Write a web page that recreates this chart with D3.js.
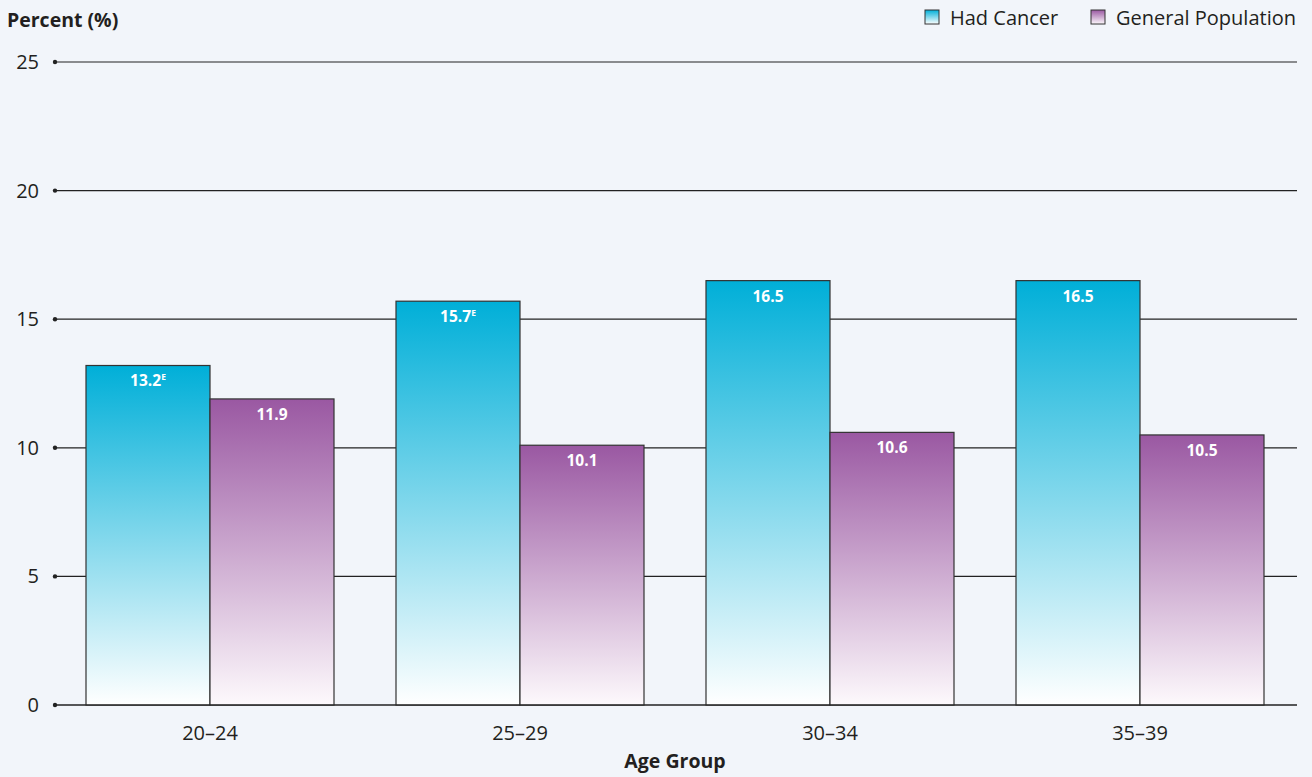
<!DOCTYPE html>
<html><head><meta charset="utf-8">
<script src="https://cdn.jsdelivr.net/npm/d3@7"></script>
<style>
html,body{margin:0;padding:0;background:#f2f5fa;}
svg{display:block;font-family:"Open Sans",sans-serif;}
</style></head>
<body><svg id="c" width="1312" height="777"></svg>
<script>
const categories = ["20–24","25–29","30–34","35–39"];
const seriesNames = ["Had Cancer","General Population"];
const hadCancer = [13.2,15.7,16.5,16.5];
const generalPop = [11.9,10.1,10.6,10.5];
const estimateFlags = [true,true,false,false];
const yTicks = [0,5,10,15,20,25];

const svg = d3.select("#c");
const x = d3.scaleBand().domain(categories).range([55,1295]).paddingInner(0.2).paddingOuter(0.1);
const xs = d3.scaleBand().domain(seriesNames).range([0,x.bandwidth()]);
const y = d3.scaleLinear().domain([0,25]).range([705,62]);

const defs = svg.append("defs");
const g1 = defs.append("linearGradient").attr("id","gc").attr("x1",0).attr("y1",0).attr("x2",0).attr("y2",1);
g1.append("stop").attr("offset","0%").attr("stop-color","#00afd8");
g1.append("stop").attr("offset","100%").attr("stop-color","#ffffff");
const g2 = defs.append("linearGradient").attr("id","gp").attr("x1",0).attr("y1",0).attr("x2",0).attr("y2",1);
g2.append("stop").attr("offset","0%").attr("stop-color","#9a58a2");
g2.append("stop").attr("offset","100%").attr("stop-color","#fdf9fc");
const fills = ["url(#gc)","url(#gp)"];

// gridlines
svg.append("g").selectAll("line").data(yTicks).join("line")
  .attr("x1",55).attr("x2",1297).attr("y1",d=>y(d)).attr("y2",d=>y(d))
  .attr("stroke","#222").attr("stroke-width",1.2);
svg.append("g").selectAll("circle").data(yTicks).join("circle")
  .attr("cx",55).attr("cy",d=>y(d)).attr("r",2.2).attr("fill","#222");
svg.append("g").selectAll("text").data(yTicks).join("text")
  .attr("x",39).attr("y",d=>y(d)).attr("dy","0.35em").attr("text-anchor","end")
  .attr("font-size",20).attr("fill","#231f20").text(d=>d);

// bars
const rows = categories.map((c,i)=>({c,vals:[hadCancer[i],generalPop[i]],e:estimateFlags[i]}));
const grp = svg.append("g").selectAll("g").data(rows).join("g")
  .attr("transform",d=>`translate(${x(d.c)},0)`);
grp.selectAll("rect").data(d=>d.vals.map((v,j)=>({v,j}))).join("rect")
  .attr("x",d=>xs(seriesNames[d.j])).attr("width",xs.bandwidth())
  .attr("y",d=>y(d.v)).attr("height",d=>y(0)-y(d.v))
  .attr("fill",d=>fills[d.j]).attr("stroke","#333").attr("stroke-width",1.2);
grp.each(function(d){
  const g = d3.select(this);
  d.vals.forEach((v,j)=>{
    const t = g.append("text").attr("x",xs(seriesNames[j])+xs.bandwidth()/2).attr("y",y(v)+21)
      .attr("text-anchor","middle").attr("font-size",15.5).attr("font-weight","bold").attr("fill","#fff");
    t.append("tspan").text(v.toFixed(1));
    if(j===0 && d.e) t.append("tspan").attr("font-size",8.5).attr("dy",-6.5).text("E");
  });
});
// baseline over bars
svg.append("line").attr("x1",55).attr("x2",1297).attr("y1",y(0)).attr("y2",y(0)).attr("stroke","#222").attr("stroke-width",1.2);

// x labels
svg.append("g").selectAll("text").data(categories).join("text")
  .attr("x",d=>x(d)+x.bandwidth()/2).attr("y",740).attr("text-anchor","middle")
  .attr("font-size",20).attr("fill","#231f20").text(d=>d);
svg.append("text").attr("x",675).attr("y",768).attr("text-anchor","middle")
  .attr("font-size",19.5).attr("font-weight","bold").attr("fill","#231f20").text("Age Group");
svg.append("text").attr("x",7).attr("y",27)
  .attr("font-size",19.5).attr("font-weight","bold").attr("fill","#231f20").text("Percent (%)");

// legend
const leg = [{n:seriesNames[0],x:925,f:fills[0]},{n:seriesNames[1],x:1091,f:fills[1]}];
const lg = svg.append("g").selectAll("g").data(leg).join("g").attr("transform",d=>`translate(${d.x},10)`);
lg.append("rect").attr("width",14).attr("height",14).attr("fill",d=>d.f).attr("stroke","#333").attr("stroke-width",1);
lg.append("text").attr("x",25).attr("y",15).attr("font-size",20).attr("fill","#231f20").text(d=>d.n);
</script></body></html>
